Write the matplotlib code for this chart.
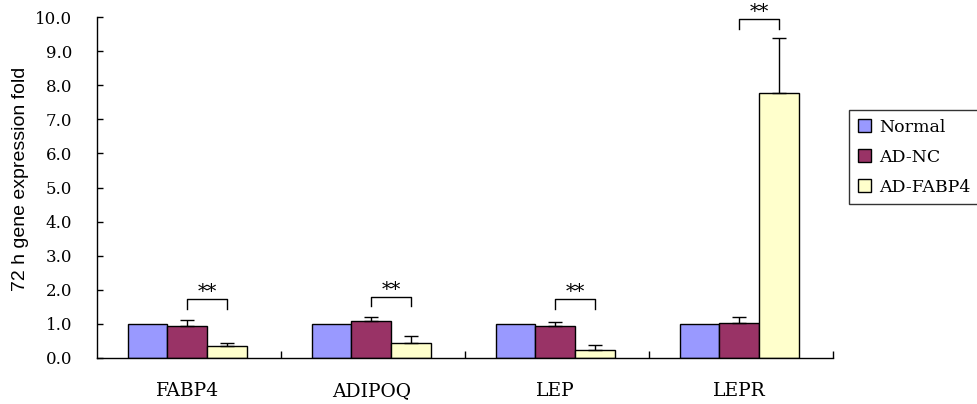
import matplotlib
matplotlib.use("Agg")
import matplotlib.pyplot as plt
import numpy as np

categories = ["FABP4", "ADIPOQ", "LEP", "LEPR"]
series_names = ["Normal", "AD-NC", "AD-FABP4"]
normal = [1.0, 1.0, 1.0, 1.0]
ad_nc = [0.95, 1.08, 0.95, 1.03]
ad_fabp4 = [0.35, 0.43, 0.22, 7.77]
normal_err = [0.0, 0.0, 0.0, 0.0]
ad_nc_err = [0.17, 0.12, 0.12, 0.17]
ad_fabp4_err = [0.08, 0.22, 0.16, 1.6]
bracket_y = [1.72, 1.8, 1.72, 9.94]
yticks = [0, 1, 2, 3, 4, 5, 6, 7, 8, 9, 10]

colors = ["#9999FF", "#993366", "#FFFFCC"]
serif = "DejaVu Serif"

fig = plt.figure(figsize=(9.78, 4.04), dpi=100)
ax = fig.add_axes([97/978, 1-358/404, (833-97)/978, (358-17)/404])

x = np.arange(len(categories)) + 0.49
w = 0.215
vals = [normal, ad_nc, ad_fabp4]
errs = [normal_err, ad_nc_err, ad_fabp4_err]
for i, (v, e, c, n) in enumerate(zip(vals, errs, colors, series_names)):
    pos = x + (i - 1) * w
    ax.bar(pos, v, w, color=c, edgecolor="black", linewidth=1, label=n, zorder=2)
    if any(ev > 0 for ev in e):
        ax.errorbar(pos, v, yerr=[np.zeros(len(e)), e], fmt="none", ecolor="black",
                    elinewidth=1, capsize=5, capthick=1, zorder=3)

# significance brackets
for xi, by in zip(x, bracket_y):
    x1, x2 = xi, xi + w
    ax.plot([x1, x1, x2, x2], [by - 0.28, by, by, by - 0.28], color="black", lw=1,
            clip_on=False, zorder=4)
    ax.text((x1 + x2) / 2, by + 0.06, "**", ha="center", va="baseline",
            fontsize=14, family=serif, clip_on=False)

ax.set_xlim(0, 4)
ax.set_ylim(0, 10)
ax.set_yticks(yticks)
ax.set_yticklabels([f"{t:.1f}" for t in yticks], family=serif, fontsize=12)
ax.set_xticks([1, 2, 3, 4])
ax.set_xticklabels([])
ax.tick_params(axis="x", direction="in", length=5, width=1)
ax.tick_params(axis="y", direction="in", length=4, width=1, pad=18)
for xi, name in zip(x, categories):
    ax.text(xi, -0.97, name, ha="center", va="center", fontsize=13.5, family=serif)

ax.spines["top"].set_visible(False)
ax.spines["right"].set_visible(False)
ax.spines["left"].set_linewidth(1)
ax.spines["bottom"].set_linewidth(1)
fig.text(21/978, 1-179/404, "72 h gene expression fold", rotation=90, ha="center",
         va="center", fontsize=14, family="Liberation Sans")

leg = fig.legend(loc="upper left", bbox_to_anchor=(849/978, 1-110/404),
                 bbox_transform=fig.transFigure, frameon=True, fancybox=False,
                 edgecolor="black", prop={"family": serif, "size": 12.5},
                 handlelength=0.75, handleheight=0.75, handletextpad=0.5,
                 labelspacing=0.75, borderpad=0.5, borderaxespad=0)
leg.get_frame().set_linewidth(1)

fig.savefig("out.png", dpi=100)
